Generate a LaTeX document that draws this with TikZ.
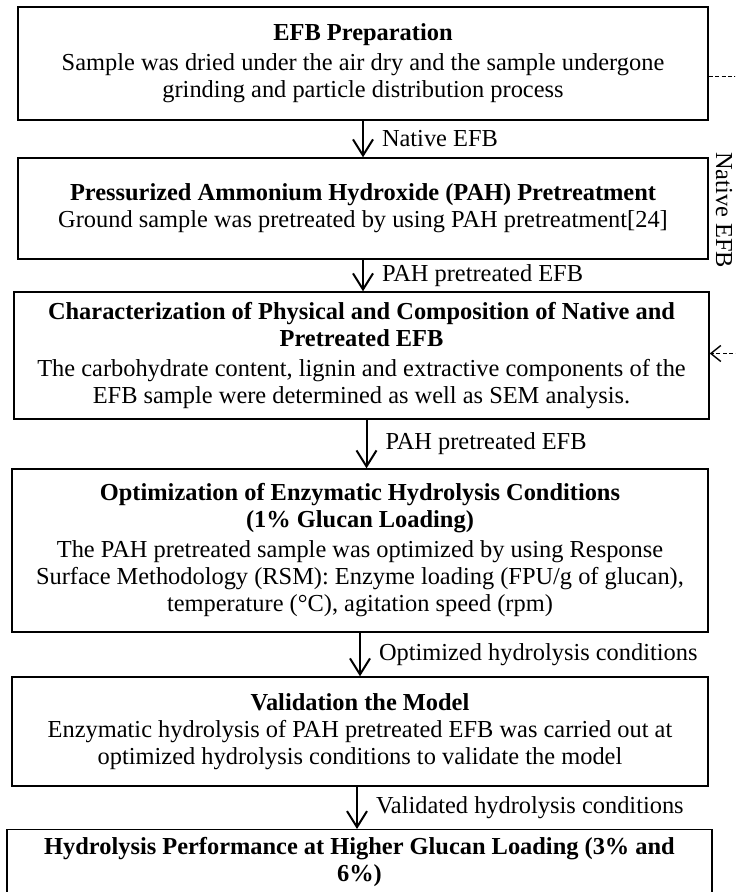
\documentclass[tikz,border=0pt]{standalone}
\usepackage{fontspec}
\setmainfont{Liberation Serif}
\usetikzlibrary{arrows.meta}
\begin{document}
\begin{tikzpicture}[x=0.5pt, y=-0.5pt, every node/.style={font=\fontsize{12.2}{13.5}\selectfont, align=center},
        stage/.style={draw, rectangle, line width=0.7pt, inner sep=0pt},
        flow/.style={-{Straight Barb[length=8pt, width=10pt, line width=1pt]}, line width=1pt},
        flowlabel/.style={anchor=west, inner sep=0pt, xshift=9pt},
        sidelink/.style={-{Straight Barb[length=5pt, width=8pt]}, line width=0.7pt, dash pattern=on 2pt off 1.2pt}]
        \useasboundingbox (0,0) rectangle (735,892);
        \clip (0,0) rectangle (735,892);
        \node[stage, minimum width=345pt, minimum height=56.5pt] (prep) at (363, 63.5)
            {\textbf{EFB Preparation}\\[1.5pt] Sample was dried under the air dry and the sample undergone\\ grinding and particle distribution process};
        \node[stage, minimum width=345pt, minimum height=50.5pt] (pah) at (363, 208.5)
            {\textbf{Pressurized Ammonium Hydroxide (PAH) Pretreatment}\\ Ground sample was pretreated by using PAH pretreatment[24]};
        \node[stage, minimum width=347.5pt, minimum height=63.5pt] (char) at (361.5, 355.5)
            {\textbf{Characterization of Physical and Composition of Native and}\\ \textbf{Pretreated EFB}\\[1.5pt] The carbohydrate content, lignin and extractive components of the\\ EFB sample were determined as well as SEM analysis.};
        \node[stage, minimum width=348pt, minimum height=81.5pt] (opt) at (360, 550.5)
            {\textbf{Optimization of Enzymatic Hydrolysis Conditions}\\ \textbf{(1\% Glucan Loading)}\\[1.5pt] The PAH pretreated sample was optimized by using Response\\ Surface Methodology (RSM): Enzyme loading (FPU/g of glucan),\\ temperature (°C), agitation speed (rpm)};
        \node[stage, minimum width=348pt, minimum height=54.5pt] (valid) at (360, 731.5)
            {\textbf{Validation the Model}\\ Enzymatic hydrolysis of PAH pretreated EFB was carried out at\\ optimized hydrolysis conditions to validate the model};
        \node[stage, minimum width=352.5pt, minimum height=70pt, anchor=north] (perf) at (359.5, 829) {};
        \node[anchor=north, inner sep=0pt] (perftext) at ([yshift=-4pt]perf.north)
            {\textbf{Hydrolysis Performance at Higher Glucan Loading (3\% and}\\ \textbf{6\%)}};
        \node[rotate=-90, inner sep=0pt] (sidelabel) at (724, 210) {Native EFB};
        \draw[flow] (prep.south) -- (prep.south |- pah.north) node[flowlabel, midway] {Native EFB};
        \draw[flow] (pah.south) -- (pah.south |- char.north) node[flowlabel, midway] {PAH pretreated EFB};
        \draw[flow] ([xshift=2.5pt]char.south) -- ([xshift=2.5pt]char.south |- opt.north) node[flowlabel, midway] {PAH pretreated EFB};
        \draw[flow] (opt.south) -- (opt.south |- valid.north) node[flowlabel, midway] {Optimized hydrolysis conditions};
        \draw[flow] ([xshift=-1.5pt]valid.south) -- ([xshift=-1.5pt]valid.south |- perf.north) node[flowlabel, midway] {Validated hydrolysis conditions};
        \draw[sidelink] ([yshift=-6.5pt]prep.east) -- ++(40,0) |- ([yshift=1pt]char.east);
\end{tikzpicture}
\end{document}
